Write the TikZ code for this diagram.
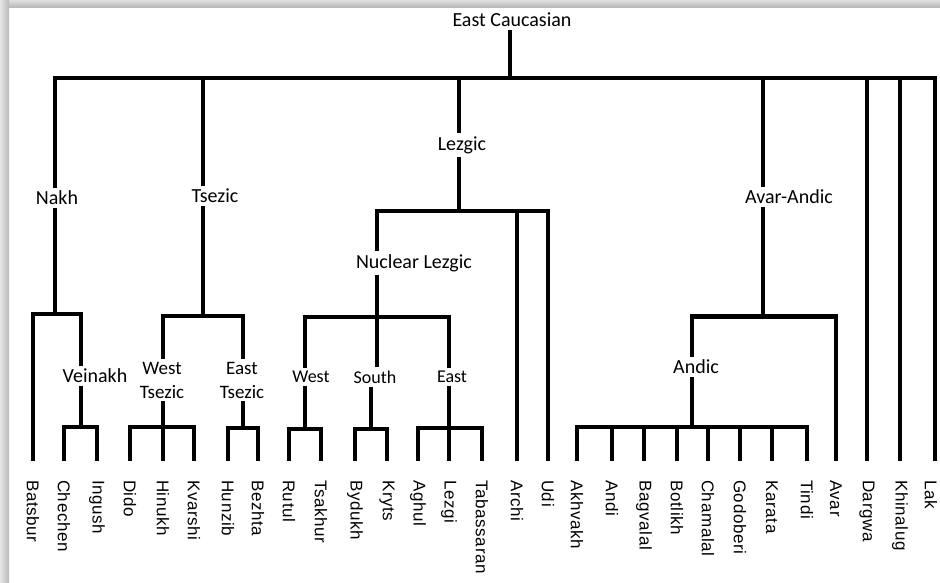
\documentclass[tikz,border=0pt]{standalone}
\usepackage{fontspec}
\setmainfont{Carlito}
\newfontfamily\leaffont[LetterSpace=4]{Liberation Sans}
\usetikzlibrary{calc}
\begin{document}
\begin{tikzpicture}[x=1pt,y=-1pt,
  lbl/.style={font=\fontsize{20}{24}\selectfont, inner sep=3pt, align=center},
  midlbl/.style={font=\fontsize{18}{22}\selectfont, inner sep=3pt},
  twolbl/.style={font=\fontsize{19}{24}\selectfont, inner sep=3pt, align=center},
  leaf/.style={font=\leaffont\fontsize{17}{20}\selectfont, rotate=-90, anchor=west, inner sep=0pt, outer xsep=19pt},
  br/.style={line width=3.2pt, line join=miter},
  brthick/.style={line width=5pt}]
\useasboundingbox (0,0) rectangle (940,582);
\fill[white] (0,0) rectangle (940,582);
% page shadow
\shade[top color=gray!25, bottom color=gray!55] (0,0) rectangle (940,7);
\shade[left color=gray!20, right color=gray!55] (0,0) rectangle (9,582);

% junction coordinates
\coordinate (ecJ) at (510,78);
\coordinate (nJ) at (55,314);
\coordinate (vJ) at (81,427);
\coordinate (tJ) at (203,316);
\coordinate (wtJ) at (163,427);
\coordinate (etJ) at (243,428);
\coordinate (lJ) at (459,211);
\coordinate (nlJ) at (377,317);
\coordinate (wJ) at (305,429);
\coordinate (sJ) at (371,429);
\coordinate (eJ) at (449,428);
\coordinate (aaJ) at (763,316);
\coordinate (aJ) at (692,427);
\coordinate (lakL) at (935,461);

% inner labels
\node[lbl] (ec) at (512,20) {East Caucasian};
\node[lbl] (nakh) at (57,198) {Nakh};
\node[lbl] (tsezic) at (215,196) {Tsezic};
\node[lbl] (lezgic) at (462,145) {Lezgic};
\node[lbl] (avarandic) at (789,197) {Avar-Andic};
\node[lbl] (veinakh) at (95,376) {Veinakh};
\node[twolbl] (wts) at (162,380) {West\\Tsezic};
\node[twolbl] (ets) at (242,380) {East\\Tsezic};
\node[lbl] (nuclez) at (414,263) {Nuclear Lezgic};
\node[midlbl] (west) at (311,377) {West};
\node[midlbl] (south) at (375,377) {South};
\node[midlbl] (east) at (452,377) {East};
\node[lbl] (andic) at (696,367) {Andic};

% leaves
\foreach \n/\t/\x in {batsbur/Batsbur/33, chechen/Chechen/64, ingush/Ingush/97,
  dido/Dido/130, hinukh/Hinukh/163, kvarshi/Kvarshi/194, hunzib/Hunzib/228,
  bezhta/Bezhta/258, rutul/Rutul/289, tsakhur/Tsakhur/321, bydukh/Bydukh/355,
  kryts/Kryts/387, aghul/Aghul/418, lezgi/Lezgi/449, tabassaran/Tabassaran/482,
  archi/Archi/517, udi/Udi/548, akhvakh/Akhvakh/577, andi/Andi/612,
  bagvalal/Bagvalal/644, botlikh/Botlikh/677, chamalal/Chamalal/708,
  godoberi/Godoberi/740, karata/Karata/772, tindi/Tindi/807, avar/Avar/836,
  dargwa/Dargwa/867, khinalug/Khinalug/900, lak/Lak/931}
  \node[leaf] (\n) at (\x,461) {\t};

% top level
\draw[br] (ec.south -| ecJ) -- (ecJ);
\draw[br] (nakh.north -| nJ) |- (ecJ) -| (lakL);
\draw[br] (tsezic.north -| tJ) -- (tJ |- ecJ);
\draw[br] (lezgic.north -| lJ) -- (lJ |- ecJ);
\draw[br] (avarandic.north -| aaJ) -- (aaJ |- ecJ);
\draw[br] (dargwa.west) -- (dargwa.west |- ecJ);
\draw[br] (khinalug.west) -- (khinalug.west |- ecJ);

% Nakh
\draw[br] (nakh.south -| nJ) -- (nJ);
\draw[br] (batsbur.west) |- (nJ) -| (veinakh.north -| vJ);
\draw[line width=4.2pt] ($(batsbur.west |- nJ)+(-1.6,0)$) -- ($(vJ |- nJ)+(1.6,0)$);
\draw[br] (veinakh.south -| vJ) -- (vJ);
\draw[br] (chechen.west) |- (vJ) -| (ingush.west);

% Tsezic
\draw[br] (tsezic.south -| tJ) -- (tJ);
\draw[br] (wts.north -| wtJ) |- (tJ) -| (ets.north -| etJ);
\draw[br] (wts.south -| wtJ) -- (wtJ);
\draw[br] (dido.west) |- (wtJ) -| (kvarshi.west);
\draw[br] (hinukh.west) -- (hinukh.west |- wtJ);
\draw[br] (ets.south -| etJ) -- (etJ);
\draw[br] (hunzib.west) |- (etJ) -| (bezhta.west);

% Lezgic
\draw[br] (lezgic.south -| lJ) -- (lJ);
\draw[br] (nuclez.north -| nlJ) |- (lJ) -| (udi.west);
\draw[br] (archi.west) -- (archi.west |- lJ);
\draw[br] (nuclez.south -| nlJ) -- (nlJ);
\draw[br] (west.north -| wJ) |- (nlJ) -| (east.north -| eJ);
\draw[br] (south.north -| nlJ) -- (nlJ);
\draw[br] (west.south -| wJ) -- (wJ);
\draw[br] (rutul.west) |- (wJ) -| (tsakhur.west);
\draw[br] (south.south -| sJ) -- (sJ);
\draw[br] (bydukh.west) |- (sJ) -| (kryts.west);
\draw[br] (east.south -| eJ) -- (eJ);
\draw[br] (aghul.west) |- (eJ) -| (tabassaran.west);
\draw[br] (lezgi.west) -- (lezgi.west |- eJ);

% Avar-Andic
\draw[br] (avarandic.south -| aaJ) -- (aaJ);
\draw[br] (andic.north -| aJ) |- (aaJ) -| (avar.west);
\draw[brthick] ($(aJ |- aaJ)+(-1.6,0)$) -- ($(avar.west |- aaJ)+(1.6,0)$);
\draw[br] (andic.south -| aJ) -- (aJ);
\draw[br] (akhvakh.west) |- (aJ) -| (tindi.west);
\foreach \m in {andi,bagvalal,botlikh,chamalal,godoberi,karata}
  \draw[br] (\m.west) -- (\m.west |- aJ);
\end{tikzpicture}
\end{document}
